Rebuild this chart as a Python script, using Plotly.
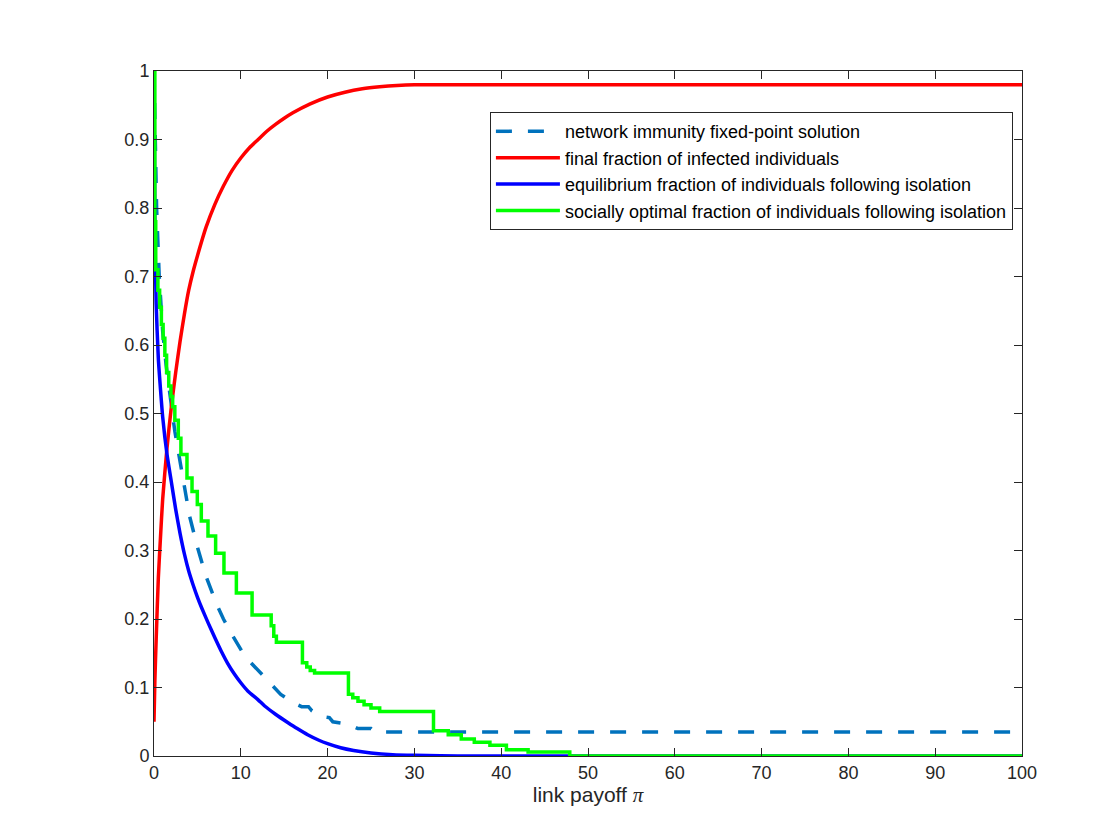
import plotly.graph_objects as go

# link payoff values and curves
red_x = [0, 0.1, 0.25, 0.5, 0.75, 1, 1.5, 2, 2.5, 3, 3.5, 4, 4.5, 5, 6, 7, 8, 9, 10, 11,
         12, 13, 14, 15, 16, 18, 20, 22, 24, 26, 28, 30, 100]
red_y = [0.05, 0.11, 0.17, 0.26, 0.32, 0.375, 0.45, 0.51, 0.56, 0.605, 0.645, 0.68,
         0.707, 0.73, 0.772, 0.805, 0.832, 0.855, 0.873, 0.888, 0.90, 0.912, 0.922,
         0.931, 0.939, 0.952, 0.962, 0.969, 0.974, 0.977, 0.979, 0.98, 0.98]

blue_x = [0, 0.1, 0.25, 0.5, 0.75, 1.0, 1.5, 2.0, 2.5, 3.0, 3.5, 4.0, 4.5, 5.0, 5.5,
          6.25, 7.0, 7.75, 8.5, 9.3, 10, 10.8, 12, 12.75, 14, 15.4, 16.5, 17.7, 19,
          20, 21.5, 23, 25, 27.5, 30, 35, 100]
blue_y = [1.0, 0.77, 0.66, 0.58, 0.535, 0.495, 0.44, 0.40, 0.36, 0.325, 0.295, 0.27,
          0.25, 0.232, 0.216, 0.194, 0.173, 0.153, 0.135, 0.119, 0.107, 0.095, 0.082,
          0.073, 0.061, 0.049, 0.04, 0.031, 0.023, 0.018, 0.012, 0.008, 0.0045, 0.002,
          0.001, 0.0, 0.0]

immunity_x = [0, 0.1, 0.3, 0.6, 1.0, 1.4, 1.8, 2.4, 3.0, 3.5, 4.1, 5.0, 6.0, 7.2, 8.0,
              8.9, 10.5, 12.6, 14.6, 16.0, 17.0, 17.8, 18.2, 19.2, 20.2, 20.6, 21.6,
              22.2, 23.0, 23.5, 25.0, 25.4, 100]
immunity_y = [1.0, 0.9, 0.8, 0.7, 0.62, 0.57, 0.533, 0.474, 0.43, 0.39, 0.35, 0.305,
              0.262, 0.222, 0.2, 0.179, 0.145, 0.117, 0.09, 0.078, 0.072, 0.072, 0.066,
              0.058, 0.056, 0.05, 0.048, 0.045, 0.043, 0.04, 0.04, 0.035, 0.035]

# socially optimal fraction is piecewise constant (step starts)
green_x = [0, 0.1, 0.2, 0.45, 0.65, 0.85, 1.05, 1.25, 1.45, 1.7, 1.95, 2.15, 2.4, 2.8,
           3.1, 3.8, 4.38, 4.99, 5.45, 6.22, 7.1, 8.06, 9.49, 11.3, 13.5, 13.8, 14.1,
           17.1, 17.6, 18.0, 18.5, 22.4, 22.9, 23.5, 24.2, 25.0, 26.0, 32.2, 33.9, 35.4,
           36.9, 38.7, 40.6, 43.1, 47.9, 100]
green_y = [1.0, 0.78, 0.71, 0.68, 0.655, 0.63, 0.61, 0.585, 0.56, 0.54, 0.525, 0.51,
           0.49, 0.464, 0.44, 0.406, 0.386, 0.367, 0.343, 0.321, 0.296, 0.267, 0.238,
           0.206, 0.19, 0.175, 0.166, 0.136, 0.13, 0.125, 0.121, 0.09, 0.085, 0.08,
           0.075, 0.07, 0.065, 0.037, 0.031, 0.025, 0.02, 0.0156, 0.009, 0.0058, 0.0, 0.0]

x_ticks = [0, 10, 20, 30, 40, 50, 60, 70, 80, 90, 100]
y_ticks = [0, 0.1, 0.2, 0.3, 0.4, 0.5, 0.6, 0.7, 0.8, 0.9, 1]
y_tick_text = ["0", "0.1", "0.2", "0.3", "0.4", "0.5", "0.6", "0.7", "0.8", "0.9", "1"]

FONT = "Helvetica, Arial, Liberation Sans, sans-serif"
AXIS_COLOR = "#262626"

fig = go.Figure()
fig.add_trace(go.Scatter(
    x=immunity_x, y=immunity_y, mode="lines",
    name="network immunity fixed-point solution",
    line=dict(color="#0072BD", width=3.5, dash="16px,16px"),
))
fig.add_trace(go.Scatter(
    x=red_x, y=red_y, mode="lines",
    name="final fraction of infected individuals",
    line=dict(color="#FF0000", width=3.5, shape="spline", smoothing=0.6),
))
fig.add_trace(go.Scatter(
    x=blue_x, y=blue_y, mode="lines",
    name="equilibrium fraction of individuals following isolation",
    line=dict(color="#0000FF", width=3.5, shape="spline", smoothing=0.6),
))
fig.add_trace(go.Scatter(
    x=green_x, y=green_y, mode="lines",
    name="socially optimal fraction of individuals following isolation",
    line=dict(color="#00FF00", width=3.5, shape="hv"),
))

axis_common = dict(
    showgrid=False, zeroline=False, showline=True, mirror="ticks",
    linecolor=AXIS_COLOR, linewidth=1, ticks="inside", ticklen=8,
    tickcolor=AXIS_COLOR, tickfont=dict(size=18, color=AXIS_COLOR, family=FONT),
)

fig.update_xaxes(
    range=[0, 100], tickvals=x_ticks,
    title=dict(text="link payoff <span style='font-family:Liberation Serif'><i>π</i></span>",
               font=dict(size=21, color=AXIS_COLOR, family=FONT), standoff=4),
    **axis_common,
)
fig.update_yaxes(range=[0, 1], tickvals=y_ticks, ticktext=y_tick_text, **axis_common)

fig.update_layout(
    width=1120, height=840,
    margin=dict(l=146, r=106, t=63, b=92),
    paper_bgcolor="white", plot_bgcolor="white",
    font=dict(family=FONT, size=18, color="#000000"),
    showlegend=True,
    legend=dict(
        x=0.387, y=0.94, xanchor="left", yanchor="top",
        bgcolor="white", bordercolor=AXIS_COLOR, borderwidth=1,
        font=dict(size=18, family=FONT, color="#000000"),
        itemwidth=64, tracegroupgap=0,
    ),
)

fig.write_html("out.html")
